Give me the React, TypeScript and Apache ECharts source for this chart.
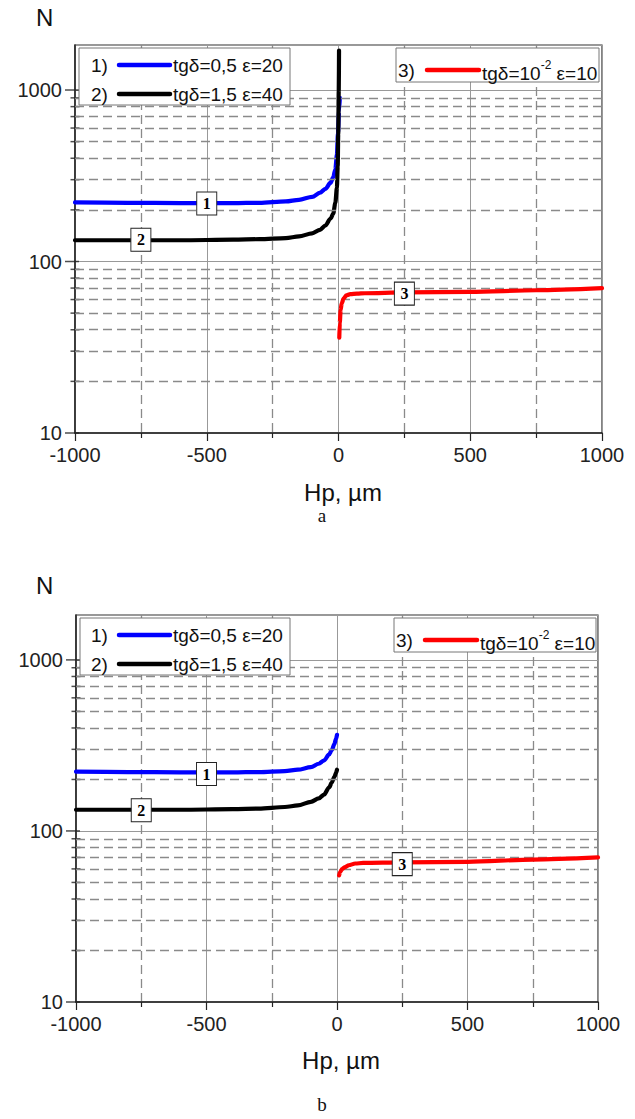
import React, { useEffect, useRef } from 'react';
import * as echarts from 'echarts';

// ---------- axis ticks ----------
const xTicks = [-1000, -500, 0, 500, 1000];
const yMajorTicks = [10, 100, 1000];
const yMinorTicks = [20, 30, 40, 50, 60, 70, 80, 90, 200, 300, 400, 500, 600, 700, 800, 900];
const yMin = 10;
const yMax = 1830;

// ---------- legend texts ----------
const legendPrefixes = ['1)', '2)', '3)'];
const legendTexts = ['tgδ=0,5 ε=20', 'tgδ=1,5 ε=40', 'tgδ=10-2 ε=10'];
const curveLabels = ['1', '2', '3'];
const colors = ['#0000ff', '#000000', '#ff0000'];

// ---------- chart a ----------
const blueA_hp = [-1000, -800, -600, -400, -300, -200, -150, -100, -70, -50, -30, -20, -12, -6, -2, 2, 5];
const blueA_n = [221, 220, 219, 219, 220, 224, 229, 238, 252, 265, 288, 310, 345, 420, 560, 750, 900];
const blackA_hp = [-1000, -800, -600, -400, -300, -200, -150, -100, -70, -50, -30, -20, -12, -6, -3, -1, 1, 2];
const blackA_n = [133, 133, 133, 134, 135, 137, 140, 146, 153, 162, 178, 190, 220, 270, 360, 550, 1000, 1700];
const redA_hp = [3, 5, 8, 12, 20, 30, 45, 70, 100, 250, 500, 750, 1000];
const redA_n = [36, 44, 52, 57, 61, 63.5, 64.5, 65, 65.3, 66, 66.5, 68, 70];
const labelA_hp = [-500, -750, 250];
const labelA_n = [218, 134, 65];

// ---------- chart b ----------
const blueB_hp = [-1000, -800, -600, -400, -300, -200, -150, -100, -70, -50, -30, -20, -10, -4, 0];
const blueB_n = [222, 221, 220, 220, 221, 224, 228, 236, 247, 258, 280, 297, 322, 345, 365];
const blackB_hp = [-1000, -800, -600, -400, -300, -200, -150, -100, -70, -50, -30, -20, -10, -4, 0];
const blackB_n = [133, 133, 133, 134, 135, 138, 141, 148, 155, 163, 180, 192, 207, 218, 228];
const redB_hp = [8, 12, 20, 30, 45, 70, 100, 250, 500, 750, 1000];
const redB_n = [55, 57.5, 60, 61.5, 63, 64.5, 65, 65.5, 66, 68, 70];
const labelB_hp = [-500, -750, 250];
const labelB_n = [215, 132, 64];

const SANS = '"Liberation Sans", Arial, sans-serif';
const SERIF = '"Liberation Serif", "Times New Roman", serif';
const DASH = { color: '#8a8a8a', width: 1.3, type: [9, 5] };

const zip = (xs: number[], ys: number[]) => xs.map((x, i) => [x, ys[i]]);

function axesFor(gi: number) {
  const xAxis = {
    type: 'value',
    gridIndex: gi,
    min: xTicks[0],
    max: xTicks[xTicks.length - 1],
    interval: 500,
    axisLine: { show: true, onZero: false, lineStyle: { color: '#222', width: 1.5 } },
    axisTick: { show: true, length: 8, lineStyle: { color: '#222', width: 1.2 } },
    minorTick: { show: true, splitNumber: 2, length: 5, lineStyle: { color: '#222', width: 1.2 } },
    axisLabel: { fontSize: 20, color: '#222', fontFamily: SANS, margin: 12, formatter: (v: number) => String(v) },
    splitLine: { show: true, lineStyle: { color: '#999', width: 1 } },
    minorSplitLine: { show: true, lineStyle: DASH },
  };
  const yAxis = {
    type: 'log',
    logBase: 10,
    gridIndex: gi,
    min: yMin,
    max: yMax,
    axisLine: { show: true, onZero: false, lineStyle: { color: '#222', width: 1.5 } },
    axisTick: { show: false },
    axisLabel: {
      fontSize: 20,
      color: '#222',
      fontFamily: SANS,
      margin: 13,
      formatter: (v: number) => (yMajorTicks.includes(Math.round(v)) ? String(Math.round(v)) : ''),
    },
    splitLine: { show: true, lineStyle: { color: '#999', width: 1 } },
  };
  return { xAxis, yAxis };
}

function seriesFor(
  gi: number,
  blue: number[][],
  black: number[][],
  red: number[][],
  lx: number[],
  ly: number[]
) {
  const curves = [blue, black, red];
  const helperMinor = {
    type: 'scatter',
    xAxisIndex: gi,
    yAxisIndex: gi,
    silent: true,
    clip: false,
    z: 1,
    symbol: 'rect',
    symbolSize: [9, 1.5],
    itemStyle: { color: '#222' },
    data: yMinorTicks.map((v) => [xTicks[0], v]),
    markLine: {
      silent: true,
      symbol: ['none', 'none'],
      label: { show: false },
      lineStyle: DASH,
      data: yMinorTicks.map((v) => ({ yAxis: v })),
    },
  };
  const helperMajor = {
    type: 'scatter',
    xAxisIndex: gi,
    yAxisIndex: gi,
    silent: true,
    clip: false,
    z: 1,
    symbol: 'rect',
    symbolSize: [14, 1.5],
    symbolOffset: [-3, 0],
    itemStyle: { color: '#222' },
    data: yMajorTicks.map((v) => [xTicks[0], v]),
  };
  const lines = curves.map((d, i) => ({
    type: 'line',
    xAxisIndex: gi,
    yAxisIndex: gi,
    data: d,
    showSymbol: false,
    symbol: 'none',
    smooth: 0.3,
    smoothMonotone: 'x',
    lineStyle: { color: colors[i], width: 4.2, cap: 'round', join: 'round' },
    z: 3 + i,
  }));
  const labels = {
    type: 'scatter',
    xAxisIndex: gi,
    yAxisIndex: gi,
    silent: true,
    z: 20,
    symbol: 'rect',
    symbolSize: [20, 23],
    itemStyle: { color: '#ffffff', borderColor: '#222', borderWidth: 1, opacity: 1 },
    label: {
      show: true,
      position: 'inside',
      formatter: (p: any) => curveLabels[p.dataIndex],
      color: '#000',
      fontFamily: SERIF,
      fontWeight: 'bold',
      fontSize: 16,
    },
    data: lx.map((x, i) => [x, ly[i]]),
  };
  return [helperMinor, helperMajor, ...lines, labels];
}

function legendGraphics(
  dy: number,
  box1: { x: number; w: number },
  box2: { x: number; w: number }
) {
  const els: any[] = [];
  const y1 = 48 + dy;
  els.push({
    type: 'rect',
    shape: { x: box1.x, y: y1, width: box1.w, height: 57 },
    style: { fill: '#fff', stroke: '#777', lineWidth: 1 },
    z: 100,
  });
  const rows = [65 + dy, 94 + dy];
  rows.forEach((ry, i) => {
    els.push({
      type: 'text',
      x: 91,
      y: ry,
      style: { text: legendPrefixes[i], fontSize: 19, fontFamily: SANS, fill: '#111', verticalAlign: 'middle' },
      z: 101,
    });
    els.push({
      type: 'line',
      shape: { x1: 119, y1: ry, x2: 170, y2: ry },
      style: { stroke: colors[i], lineWidth: 4.5, lineCap: 'round' },
      z: 101,
    });
    els.push({
      type: 'text',
      x: 173,
      y: ry,
      style: { text: legendTexts[i], fontSize: 19, fontFamily: SANS, fill: '#111', verticalAlign: 'middle' },
      z: 101,
    });
  });
  const ry2 = 70 + dy;
  els.push({
    type: 'rect',
    shape: { x: box2.x, y: y1, width: box2.w, height: 34 },
    style: { fill: '#fff', stroke: '#777', lineWidth: 1 },
    z: 100,
  });
  els.push({
    type: 'text',
    x: box2.x + 2,
    y: ry2,
    style: { text: legendPrefixes[2], fontSize: 19, fontFamily: SANS, fill: '#111', verticalAlign: 'middle' },
    z: 101,
  });
  els.push({
    type: 'line',
    shape: { x1: box2.x + 31, y1: ry2, x2: box2.x + 83, y2: ry2 },
    style: { stroke: colors[2], lineWidth: 4.5, lineCap: 'round' },
    z: 101,
  });
  const parts = legendTexts[2].split('-2');
  els.push({
    type: 'text',
    x: box2.x + 86,
    y: ry2 + 1,
    style: {
      text: `{a|${parts[0]}}{s|-2}{a|${parts[1]}}`,
      verticalAlign: 'middle',
      rich: {
        a: { fontSize: 19, fontFamily: SANS, fill: '#111', lineHeight: 24, verticalAlign: 'bottom' },
        s: { fontSize: 12, fontFamily: SANS, fill: '#111', lineHeight: 12, verticalAlign: 'top' },
      },
    },
    z: 101,
  });
  return els;
}

function titleGraphics(dy: number, cx: number, caption: string, capY: number) {
  return [
    {
      type: 'text',
      x: 36,
      y: 17 + dy,
      style: { text: 'N', fontSize: 24, fontFamily: SANS, fill: '#111', verticalAlign: 'middle' },
    },
    {
      type: 'text',
      x: cx,
      y: 492 + dy,
      style: { text: 'Hp, µm', fontSize: 24, fontFamily: SANS, fill: '#111', align: 'center', verticalAlign: 'middle' },
    },
    {
      type: 'text',
      x: 322,
      y: capY,
      style: { text: caption, fontSize: 19, fontFamily: SERIF, fill: '#111', align: 'center', verticalAlign: 'middle' },
    },
  ];
}

export default function App() {
  const ref = useRef<HTMLDivElement>(null);
  useEffect(() => {
    if (!ref.current) return;
    const chart = echarts.init(ref.current, undefined, { renderer: 'svg' });
    const a = axesFor(0);
    const b = axesFor(1);
    const option = {
      animation: false,
      backgroundColor: '#ffffff',
      grid: [
        { left: 75, top: 45, width: 527, height: 388, show: true, borderColor: '#333', borderWidth: 1.2, containLabel: false },
        { left: 76, top: 615, width: 522, height: 387, show: true, borderColor: '#333', borderWidth: 1.2, containLabel: false },
      ],
      xAxis: [a.xAxis, b.xAxis],
      yAxis: [a.yAxis, b.yAxis],
      series: [
        ...seriesFor(0, zip(blueA_hp, blueA_n), zip(blackA_hp, blackA_n), zip(redA_hp, redA_n), labelA_hp, labelA_n),
        ...seriesFor(1, zip(blueB_hp, blueB_n), zip(blackB_hp, blackB_n), zip(redB_hp, redB_n), labelB_hp, labelB_n),
      ],
      graphic: [
        ...legendGraphics(0, { x: 79, w: 211 }, { x: 396, w: 203 }),
        ...legendGraphics(570, { x: 80, w: 210 }, { x: 394, w: 202 }),
        ...titleGraphics(0, 343, 'a', 515),
        ...titleGraphics(568, 341, 'b', 1104),
      ],
    };
    chart.setOption(option as any);
    return () => chart.dispose();
  }, []);
  return (
    <div
      ref={ref}
      style={{ position: 'absolute', left: 0, top: 0, width: 635, height: 1119, background: '#fff' }}
    />
  );
}
